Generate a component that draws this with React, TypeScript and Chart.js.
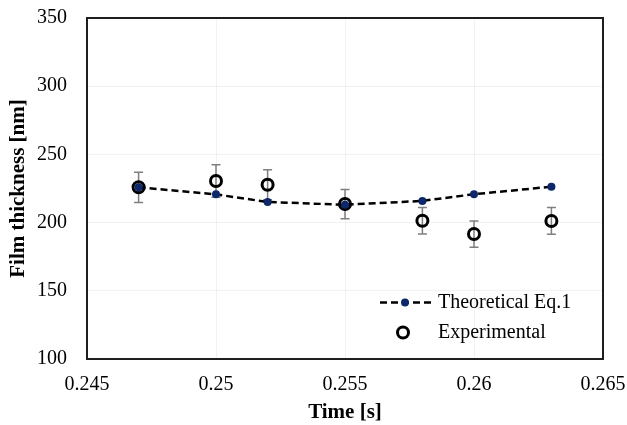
import React, { useEffect, useRef } from "react";
import { Chart, registerables } from "chart.js";

Chart.register(...registerables);

const timeValues = [0.247, 0.25, 0.252, 0.255, 0.258, 0.26, 0.263];
const theoreticalValues = [225.9, 220.7, 215.1, 213.1, 215.9, 220.8, 226.3];
const experimentalValues = [225.9, 230.5, 227.8, 213.6, 201.4, 191.6, 201.2];
const experimentalErrors = [11.1, 11.9, 11.0, 10.7, 9.7, 9.6, 9.8];
const xTickValues = [0.245, 0.25, 0.255, 0.26, 0.265];
const yTickValues = [100, 150, 200, 250, 300, 350];
const seriesLabels = ["Theoretical Eq.1", "Experimental"];
const xAxisTitle = "Time [s]";
const yAxisTitle = "Film thickness [nm]";

const FONT = "'Liberation Serif', 'Times New Roman', serif";
const NAVY = "#0c276a";
const GRID = "rgba(0,0,0,0.05)";

const errorBarPlugin = {
  id: "errorBars",
  beforeDatasetsDraw(chart: any) {
    const { ctx, scales } = chart;
    const xs = scales.x;
    const ys = scales.y;
    ctx.save();
    ctx.strokeStyle = "#7f7f7f";
    ctx.lineWidth = 1.5;
    timeValues.forEach((t, i) => {
      const x = xs.getPixelForValue(t);
      const yTop = ys.getPixelForValue(experimentalValues[i] + experimentalErrors[i]);
      const yBot = ys.getPixelForValue(experimentalValues[i] - experimentalErrors[i]);
      ctx.beginPath();
      ctx.moveTo(x, yTop);
      ctx.lineTo(x, yBot);
      ctx.moveTo(x - 4.5, yTop);
      ctx.lineTo(x + 4.5, yTop);
      ctx.moveTo(x - 4.5, yBot);
      ctx.lineTo(x + 4.5, yBot);
      ctx.stroke();
    });
    ctx.restore();
  },
};

const framePlugin = {
  id: "frame",
  beforeDatasetsDraw(chart: any) {
    const { ctx, chartArea } = chart;
    ctx.save();
    ctx.strokeStyle = "#1e1e1e";
    ctx.lineWidth = 2;
    ctx.strokeRect(
      chartArea.left,
      chartArea.top,
      chartArea.right - chartArea.left,
      chartArea.bottom - chartArea.top
    );
    ctx.restore();
  },
};

const legendPlugin = {
  id: "insideLegend",
  afterDraw(chart: any) {
    const { ctx, chartArea } = chart;
    const ds = chart.data.datasets;
    const x0 = chartArea.right - 223;
    const y1 = chartArea.bottom - 56.5;
    const y2 = chartArea.bottom - 26.5;
    ctx.save();
    ctx.strokeStyle = ds[0].borderColor;
    ctx.lineWidth = ds[0].borderWidth;
    ctx.setLineDash(ds[0].borderDash);
    ctx.beginPath();
    ctx.moveTo(x0, y1);
    ctx.lineTo(x0 + 52, y1);
    ctx.stroke();
    ctx.setLineDash([]);
    ctx.fillStyle = ds[0].pointBackgroundColor;
    ctx.beginPath();
    ctx.arc(x0 + 25, y1, ds[0].pointRadius, 0, Math.PI * 2);
    ctx.fill();
    ctx.beginPath();
    ctx.arc(x0 + 23, y2, ds[1].pointRadius, 0, Math.PI * 2);
    ctx.fillStyle = ds[1].pointBackgroundColor;
    ctx.fill();
    ctx.lineWidth = ds[1].pointBorderWidth;
    ctx.strokeStyle = ds[1].pointBorderColor;
    ctx.stroke();
    ctx.fillStyle = "#000";
    ctx.font = `20px ${FONT}`;
    ctx.textAlign = "left";
    ctx.textBaseline = "middle";
    ctx.fillText(ds[0].label, x0 + 58, y1);
    ctx.fillText(ds[1].label, x0 + 58, y2);
    ctx.restore();
  },
};

const clearPadding = (s: any) => {
  s.paddingTop = 0;
  s.paddingBottom = 0;
  s.paddingLeft = 0;
  s.paddingRight = 0;
};

export default function App() {
  const canvasRef = useRef<HTMLCanvasElement | null>(null);

  useEffect(() => {
    if (!canvasRef.current) return;
    const chart = new Chart(canvasRef.current, {
      type: "scatter",
      data: {
        datasets: [
          {
            label: seriesLabels[0],
            data: timeValues.map((x, i) => ({ x, y: theoreticalValues[i] })),
            showLine: true,
            borderColor: "#000",
            borderWidth: 2.5,
            borderDash: [7, 4],
            tension: 0,
            pointRadius: 4,
            pointBackgroundColor: NAVY,
            pointBorderColor: NAVY,
            pointBorderWidth: 0,
          },
          {
            label: seriesLabels[1],
            data: timeValues.map((x, i) => ({ x, y: experimentalValues[i] })),
            showLine: false,
            pointRadius: 5.5,
            pointBorderWidth: 3,
            pointBorderColor: "#000",
            pointBackgroundColor: "rgba(255,255,255,0)",
          },
        ],
      } as any,
      options: {
        animation: false,
        responsive: false,
        events: [],
        layout: { autoPadding: false, padding: { left: 0, top: 18, right: 24, bottom: 0 } },
        plugins: {
          legend: { display: false },
          tooltip: { enabled: false },
        },
        scales: {
          x: {
            type: "linear",
            min: xTickValues[0],
            max: xTickValues[xTickValues.length - 1],
            afterBuildTicks: (s: any) => {
              s.ticks = xTickValues.map((v) => ({ value: v }));
            },
            afterFit: (s: any) => {
              s.height = 66;
              clearPadding(s);
            },
            grid: { color: GRID, lineWidth: 1, drawTicks: false },
            border: { display: false },
            ticks: {
              padding: 14,
              color: "#000",
              maxRotation: 0,
              autoSkip: false,
              font: { family: FONT, size: 20 },
              callback: (v: any) => String(v),
            },
            title: {
              display: true,
              text: xAxisTitle,
              color: "#000",
              font: { family: FONT, size: 21, weight: "bold" },
              padding: { top: 0, bottom: 0 },
            },
          },
          y: {
            type: "linear",
            min: yTickValues[0],
            max: yTickValues[yTickValues.length - 1],
            afterBuildTicks: (s: any) => {
              s.ticks = yTickValues.map((v) => ({ value: v }));
            },
            afterFit: (s: any) => {
              s.width = 87;
              clearPadding(s);
            },
            grid: { color: GRID, lineWidth: 1, drawTicks: false },
            border: { display: false },
            ticks: {
              padding: 20,
              color: "#000",
              font: { family: FONT, size: 20 },
              callback: (v: any) => String(v),
            },
            title: {
              display: true,
              text: yAxisTitle,
              color: "#000",
              font: { family: FONT, size: 21, weight: "bold" },
              padding: { top: 6, bottom: 0 },
            },
          },
        },
      } as any,
      plugins: [framePlugin, errorBarPlugin, legendPlugin],
    });
    return () => chart.destroy();
  }, []);

  return (
    <div style={{ position: "fixed", left: 0, top: 0, width: 627, height: 425, background: "#fff" }}>
      <canvas ref={canvasRef} width={627} height={425} style={{ display: "block" }} />
    </div>
  );
}
